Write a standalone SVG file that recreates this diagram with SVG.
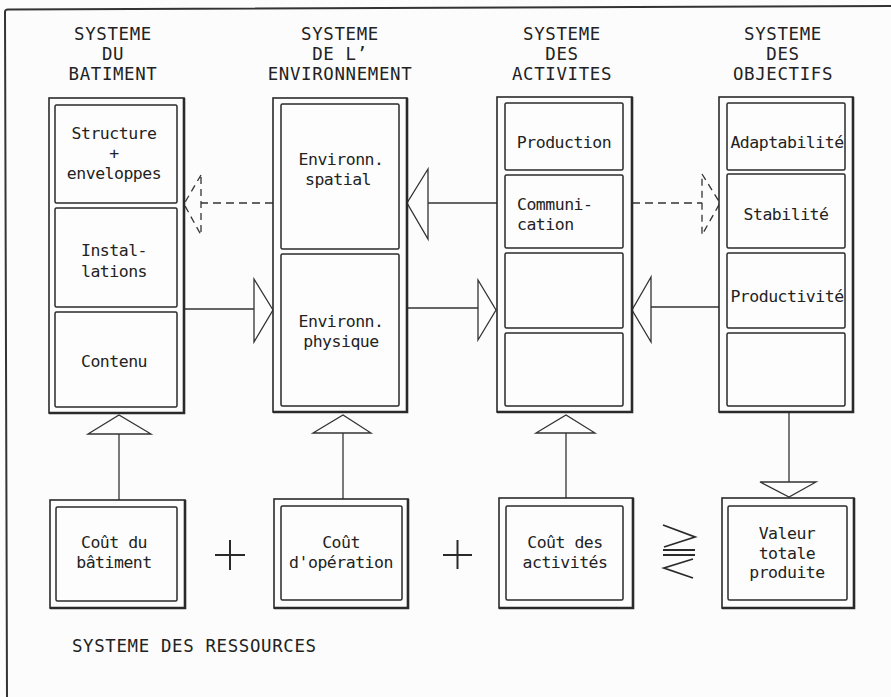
<svg xmlns="http://www.w3.org/2000/svg" width="891" height="697" viewBox="0 0 891 697">
<defs>
<style>
.bg{fill:#fcfcfc}
.frame{fill:none;stroke:#333;stroke-width:2}
.outer{fill:#fdfdfd;stroke:#2a2a2a;stroke-width:1.6}
.shadow{fill:none;stroke:#2a2a2a;stroke-width:2.6}
.inner{fill:#fdfdfd;stroke:#2a2a2a;stroke-width:1.5}
.ln{fill:none;stroke:#333;stroke-width:1.3}
.dash{fill:none;stroke:#333;stroke-width:1.3;stroke-dasharray:8 5}
.tri{fill:#fdfdfd;stroke:#333;stroke-width:1.3;stroke-linejoin:miter}
.dtri{fill:none;stroke:#333;stroke-width:1.3;stroke-dasharray:7 5}
.sym{fill:none;stroke:#2a2a2a;stroke-width:1.8}
.plus{fill:none;stroke:#2a2a2a;stroke-width:2}
.t{font-family:"DejaVu Sans Mono","Liberation Mono",monospace;font-size:17.4px;letter-spacing:0.65px;fill:#222;text-anchor:middle}
.c{font-family:"DejaVu Sans Mono","Liberation Mono",monospace;font-size:16.5px;letter-spacing:-0.5px;fill:#222;text-anchor:middle}
.s{text-anchor:start}
</style>
</defs>
<rect class="bg" x="0" y="0" width="891" height="697"/>
<path class="frame" d="M7,697 L5,12 Q5,9.5 8,9.5 L891,6"/>

<g id="connectors">
<path class="dash" d="M273,203 H201"/>
<path class="dtri" d="M201,175 L184,204 L201,235 Z"/>
<path class="ln" d="M497,203 H428"/>
<path class="tri" d="M428,169 L407,203 L428,239 Z"/>
<path class="ln" d="M184,309 H254"/>
<path class="tri" d="M254,279 L273,310 L254,342 Z"/>
<path class="ln" d="M407,308 H478"/>
<path class="tri" d="M478,280 L496,310 L478,340 Z"/>
<path class="ln" d="M719,307 H651"/>
<path class="tri" d="M651,277 L632,310 L651,342 Z"/>
<path class="dash" d="M632,203 H702"/>
<path class="dtri" d="M702,174 L720,203 L702,235 Z"/>
<path class="ln" d="M119,500 V434"/>
<path class="tri" d="M88,434 L119,415 L151,434 Z"/>
<path class="ln" d="M343,499 V433"/>
<path class="tri" d="M313,433 L343,415 L371,433 Z"/>
<path class="ln" d="M566,498 V433"/>
<path class="tri" d="M536,433 L566,415 L595,433 Z"/>
<path class="ln" d="M789,412 V482"/>
<path class="tri" d="M760,482 L789,497 L816,482 Z"/>
</g>

<g id="titles">
<text class="t" x="113" y="39.5">SYSTEME</text>
<text class="t" x="113" y="59.5">DU</text>
<text class="t" x="113" y="80">BATIMENT</text>
<text class="t" x="340" y="39.5">SYSTEME</text>
<text class="t" x="340" y="59.5">DE L’</text>
<text class="t" x="340" y="80">ENVIRONNEMENT</text>
<text class="t" x="562" y="40">SYSTEME</text>
<text class="t" x="562" y="60">DES</text>
<text class="t" x="562" y="80">ACTIVITES</text>
<text class="t" x="783" y="40">SYSTEME</text>
<text class="t" x="783" y="60">DES</text>
<text class="t" x="783" y="80">OBJECTIFS</text>
</g>

<g id="batiment">
<rect class="outer" x="49" y="98" width="135" height="315"/>
<path class="shadow" d="M184,98 V413 H49"/>
<rect class="inner" x="55" y="105" width="122" height="98" rx="1.5"/>
<rect class="inner" x="55" y="208" width="122" height="99" rx="1.5"/>
<rect class="inner" x="55" y="312" width="122" height="95" rx="1.5"/>
<text class="c" x="114" y="139">Structure</text>
<text class="c" x="114" y="159">+</text>
<text class="c" x="114" y="179">enveloppes</text>
<text class="c" x="114" y="256">Instal-</text>
<text class="c" x="114" y="277">lations</text>
<text class="c" x="114" y="367">Contenu</text>
</g>

<g id="environnement">
<rect class="outer" x="273" y="98" width="134" height="314"/>
<path class="shadow" d="M407,98 V412 H273"/>
<rect class="inner" x="281" y="104" width="118" height="145" rx="1.5"/>
<rect class="inner" x="281" y="254" width="118" height="152" rx="1.5"/>
<text class="c" x="341" y="165">Environn.</text>
<text class="c" x="338" y="185">spatial</text>
<text class="c" x="341" y="327">Environn.</text>
<text class="c" x="341" y="347">physique</text>
</g>

<g id="activites">
<rect class="outer" x="497" y="97" width="135" height="315"/>
<path class="shadow" d="M632,97 V412 H497"/>
<rect class="inner" x="505" y="103" width="118" height="67" rx="1.5"/>
<rect class="inner" x="505" y="175" width="118" height="73" rx="1.5"/>
<rect class="inner" x="505" y="253" width="118" height="75" rx="1.5"/>
<rect class="inner" x="505" y="333" width="118" height="73" rx="1.5"/>
<text class="c" x="564" y="148">Production</text>
<text class="c s" x="517" y="210">Communi-</text>
<text class="c s" x="517" y="230">cation</text>
</g>

<g id="objectifs">
<rect class="outer" x="719" y="97" width="134" height="315"/>
<path class="shadow" d="M853,97 V412 H719"/>
<rect class="inner" x="727" y="103" width="118" height="67" rx="1.5"/>
<rect class="inner" x="727" y="174" width="118" height="74" rx="1.5"/>
<rect class="inner" x="727" y="253" width="118" height="75" rx="1.5"/>
<rect class="inner" x="727" y="333" width="118" height="73" rx="1.5"/>
<text class="c" x="787" y="148">Adaptabilité</text>
<text class="c" x="786" y="220">Stabilité</text>
<text class="c" x="787" y="302">Productivité</text>
</g>

<g id="cout-batiment">
<rect class="outer" x="50" y="500" width="135" height="108"/>
<path class="shadow" d="M185,500 V608 H50"/>
<rect class="inner" x="56" y="507" width="121" height="94" rx="1.5"/>
<text class="c" x="114" y="548">Coût du</text>
<text class="c" x="114" y="568">bâtiment</text>
</g>

<g id="cout-operation">
<rect class="outer" x="274" y="499" width="134" height="109"/>
<path class="shadow" d="M408,499 V608 H274"/>
<rect class="inner" x="281" y="506" width="121" height="94" rx="1.5"/>
<text class="c" x="341" y="548">Coût</text>
<text class="c" x="341" y="568">d'opération</text>
</g>

<g id="cout-activites">
<rect class="outer" x="499" y="498" width="134" height="110"/>
<path class="shadow" d="M633,498 V608 H499"/>
<rect class="inner" x="506" y="506" width="117" height="94" rx="1.5"/>
<text class="c" x="565" y="548">Coût des</text>
<text class="c" x="565" y="568">activités</text>
</g>

<g id="valeur-totale">
<rect class="outer" x="722" y="498" width="132" height="110"/>
<path class="shadow" d="M854,498 V608 H722"/>
<rect class="inner" x="728" y="506" width="119" height="94" rx="1.5"/>
<text class="c" x="787" y="539">Valeur</text>
<text class="c" x="787" y="559">totale</text>
<text class="c" x="787" y="578">produite</text>
</g>

<g id="operators">
<path class="plus" d="M215,555 H245 M230,540 V570"/>
<path class="plus" d="M443,555 H472 M457.5,540 V569"/>
<path class="sym" d="M663,525 L695,537 L664,547 M663,550 H695 M663,555 H695 M693,559 L664,568 L693,578"/>
</g>

<text class="t s" x="72" y="652">SYSTEME DES RESSOURCES</text>
</svg>
